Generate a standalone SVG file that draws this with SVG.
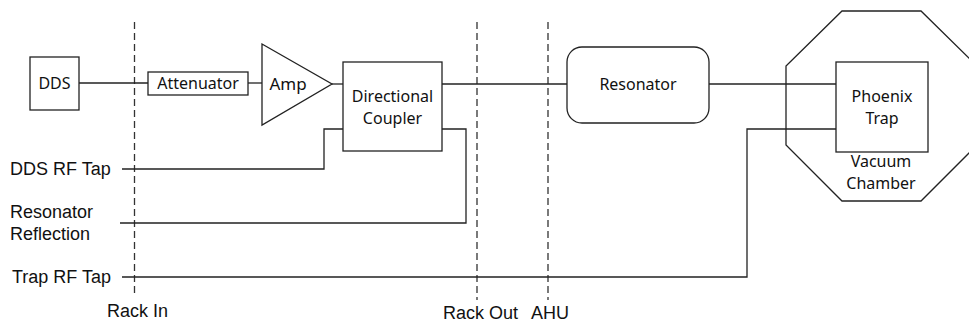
<svg xmlns="http://www.w3.org/2000/svg" width="969" height="324" viewBox="0 0 969 324">
<style>
.box{fill:#fff;stroke:#222;stroke-width:1.3}
.ln{fill:none;stroke:#222;stroke-width:1.3}
.ds{fill:none;stroke:#333;stroke-width:1.3;stroke-dasharray:7 4}
.bt{font-family:"Noto Sans","Open Sans",sans-serif;font-size:16px;fill:#111;text-anchor:middle}
.lt{font-family:"Liberation Sans",Arial,sans-serif;font-size:18px;fill:#111}
</style>
<rect width="969" height="324" fill="#fff"/>
<g id="boundaries">
<line class="ds" x1="134.5" y1="22" x2="134.5" y2="296"/>
<line class="ds" x1="477" y1="22" x2="477" y2="300"/>
<line class="ds" x1="548" y1="22" x2="548" y2="300"/>
<text class="lt" x="107" y="317">Rack In</text>
<text class="lt" x="443" y="319">Rack Out</text>
<text class="lt" x="531" y="319">AHU</text>
</g>
<g id="connectors">
<line class="ln" x1="79" y1="83" x2="148" y2="83"/>
<line class="ln" x1="248" y1="83" x2="262" y2="83"/>
<line class="ln" x1="332" y1="84" x2="343" y2="84"/>
<polyline class="ln" points="122,169 324,169 324,129 343,129"/>
<polyline class="ln" points="442,129 466,129 466,223 120,223"/>
<line class="ln" x1="442" y1="84" x2="567" y2="84"/>
<line class="ln" x1="709" y1="84" x2="836" y2="84"/>
<polyline class="ln" points="836,129 747,129 747,277 122,277"/>
</g>
<g id="vacuum-chamber">
<polygon class="ln" points="842,11 921,11 977,66 977,145 921,201 842,201 786,145 786,66"/>
<text class="bt" x="881" y="167">Vacuum</text>
<text class="bt" x="881" y="189">Chamber</text>
</g>
<g id="dds">
<rect class="box" x="30" y="57" width="49" height="53"/>
<text class="bt" x="54.5" y="89">DDS</text>
</g>
<g id="attenuator">
<rect class="box" x="148" y="72" width="100" height="23"/>
<text class="bt" x="198" y="89">Attenuator</text>
</g>
<g id="amp">
<polygon class="box" points="262,44 332,84 262,125"/>
<text class="bt" x="288" y="90" style="font-size:17px">Amp</text>
</g>
<g id="directional-coupler">
<rect class="box" x="343" y="62" width="99" height="89"/>
<text class="bt" x="392.5" y="102">Directional</text>
<text class="bt" x="392.5" y="124">Coupler</text>
</g>
<g id="resonator">
<rect class="box" x="567" y="47" width="142" height="76" rx="15" ry="15"/>
<text class="bt" x="638" y="90">Resonator</text>
</g>
<g id="phoenix-trap">
<rect class="box" x="836" y="62" width="92" height="90"/>
<text class="bt" x="882" y="102">Phoenix</text>
<text class="bt" x="882" y="124">Trap</text>
</g>
<g id="labels">
<text class="lt" x="10" y="175">DDS RF Tap</text>
<text class="lt" x="10" y="218">Resonator</text>
<text class="lt" x="10" y="240">Reflection</text>
<text class="lt" x="12" y="283">Trap RF Tap</text>
</g>
</svg>
